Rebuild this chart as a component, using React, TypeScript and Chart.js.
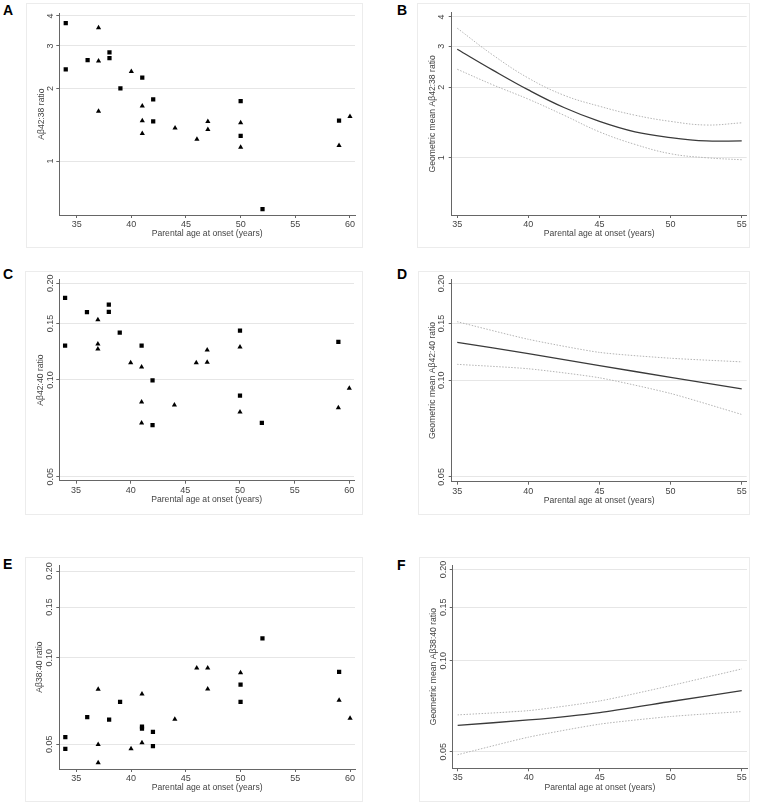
import React, { useEffect, useRef } from "react";
import { Chart, registerables } from "chart.js";
Chart.register(...registerables);

const FONT = '"Liberation Sans", Arial, sans-serif';

// ---- Observed data (panels A, C, E) ----
const sqAgesAC = [34, 34, 36, 38, 38, 39, 41, 42, 42, 50, 50, 52, 59];
const triAgesAC = [37, 37, 37, 40, 41, 41, 41, 44, 46, 47, 47, 50, 50, 59, 60];
const sqA = [3.73, 2.4, 2.62, 2.82, 2.67, 2.0, 2.22, 1.8, 1.46, 1.77, 1.27, 0.632, 1.47];
const triA = [3.57, 2.6, 1.61, 2.35, 1.69, 1.47, 1.3, 1.37, 1.23, 1.46, 1.35, 1.44, 1.14, 1.16, 1.53];
const sqC = [0.18, 0.128, 0.1625, 0.1717, 0.163, 0.1404, 0.128, 0.0998, 0.0724, 0.1425, 0.0894, 0.0736, 0.1314];
const triC = [0.154, 0.1295, 0.1249, 0.1132, 0.1098, 0.0854, 0.0735, 0.0836, 0.1132, 0.124, 0.1135, 0.1267, 0.0795, 0.082, 0.0942];
const sqAgesE = [34, 34, 36, 38, 39, 41, 41, 42, 42, 50, 50, 52, 59];
const sqE = [0.0529, 0.0482, 0.0621, 0.0609, 0.0702, 0.0576, 0.0567, 0.0552, 0.0492, 0.0806, 0.0702, 0.1167, 0.0892];
const triAgesE = [37, 37, 37, 40, 41, 41, 44, 46, 47, 47, 50, 59, 60];
const triE = [0.0776, 0.0499, 0.0431, 0.0482, 0.0748, 0.0506, 0.0611, 0.0921, 0.0921, 0.0778, 0.0887, 0.0711, 0.0616];

// ---- Model fits (panels B, D, F) ----
const fitAgesB = [35, 37.5, 40, 42.5, 45, 47.5, 50, 52.5, 55];
const fitB = [2.91, 2.37, 1.95, 1.64, 1.43, 1.29, 1.22, 1.18, 1.18];
const upperB = [3.58, 2.75, 2.19, 1.85, 1.66, 1.52, 1.43, 1.38, 1.41];
const lowerB = [2.39, 2.05, 1.78, 1.52, 1.29, 1.14, 1.04, 1.0, 0.98];
const fitAgesDF = [35, 40, 45, 50, 55];
const fitD = [0.131, 0.121, 0.111, 0.102, 0.094];
const upperD = [0.152, 0.134, 0.122, 0.117, 0.114];
const lowerD = [0.112, 0.1085, 0.1017, 0.0909, 0.0782];
const fitF = [0.0611, 0.0637, 0.0674, 0.0733, 0.0796];
const upperF = [0.0662, 0.0684, 0.0736, 0.0827, 0.0939];
const lowerF = [0.0489, 0.0559, 0.0617, 0.0654, 0.0679];

// ---- Ticks & labels ----
const xTicksObs = [35, 40, 45, 50, 55, 60];
const xTicksFit = [35, 40, 45, 50, 55];
const yTicks4238 = [1, 2, 3, 4];
const yLabels4238 = ["1", "2", "3", "4"];
const yTicksRatio = [0.05, 0.1, 0.15, 0.2];
const yLabelsRatio = ["0.05", "0.10", "0.15", "0.20"];
const xTitle = "Parental age at onset (years)";

const pts = (xs: number[], ys: number[]) => xs.map((x, i) => ({ x, y: ys[i] }));

const sqSet = (xs: number[], ys: number[]) => ({
  data: pts(xs, ys), pointStyle: "rect", pointRadius: 3, backgroundColor: "#000", borderWidth: 0, showLine: false,
});
const triSet = (xs: number[], ys: number[]) => ({
  data: pts(xs, ys), pointStyle: "triangle", pointRadius: 3, backgroundColor: "#000", borderWidth: 0, showLine: false,
});
const mainLine = (xs: number[], ys: number[], t: number) => ({
  data: pts(xs, ys), showLine: true, pointRadius: 0, borderColor: "#3a3a3a", borderWidth: 1.3, tension: t, fill: false,
});
const ciLine = (xs: number[], ys: number[], t: number) => ({
  data: pts(xs, ys), showLine: true, pointRadius: 0, borderColor: "#b4b4b4", borderWidth: 1, borderDash: [1.5, 1.5], tension: t, fill: false,
});

type Box = { l: number; t: number; r: number; b: number };
type Cfg = {
  frame: Box; plot: Box; xMin: number; xMax: number; yMin: number; yMax: number;
  xTicks: number[]; yTicks: number[]; yLabels: string[]; yTitle: string;
  yLabelOff: number; yTitleOff: number; datasets: any[];
};

const panels: Cfg[] = [
  {
    frame: { l: 26, t: 3, r: 363, b: 248 }, plot: { l: 59.3, t: 13.3, r: 355, b: 215 },
    xMin: 33.41, xMax: 60.46, yMin: 0.597, yMax: 4.1, xTicks: xTicksObs, yTicks: yTicks4238, yLabels: yLabels4238,
    yTitle: "Aβ42:38 ratio", yLabelOff: 8.6, yTitleOff: 18,
    datasets: [sqSet(sqAgesAC, sqA), triSet(triAgesAC, triA)],
  },
  {
    frame: { l: 417, t: 3, r: 750, b: 248 }, plot: { l: 451.7, t: 12.7, r: 746.7, b: 215 },
    xMin: 34.61, xMax: 55.35, yMin: 0.569, yMax: 4.17, xTicks: xTicksFit, yTicks: yTicks4238, yLabels: yLabels4238,
    yTitle: "Geometric mean Aβ42:38 ratio", yLabelOff: 10, yTitleOff: 19.4,
    datasets: [ciLine(fitAgesB, upperB, 0.4), ciLine(fitAgesB, lowerB, 0.4), mainLine(fitAgesB, fitB, 0.4)],
  },
  {
    frame: { l: 25, t: 271, r: 363, b: 515 }, plot: { l: 59.3, t: 279.3, r: 354, b: 480.7 },
    xMin: 33.47, xMax: 60.43, yMin: 0.0486, yMax: 0.2057, xTicks: xTicksObs, yTicks: yTicksRatio, yLabels: yLabelsRatio,
    yTitle: "Aβ42:40 ratio", yLabelOff: 8.6, yTitleOff: 18.6,
    datasets: [sqSet(sqAgesAC, sqC), triSet(triAgesAC, triC)],
  },
  {
    frame: { l: 418, t: 271, r: 750, b: 515 }, plot: { l: 451.7, t: 279.3, r: 746.7, b: 481.7 },
    xMin: 34.61, xMax: 55.35, yMin: 0.0483, yMax: 0.206, xTicks: xTicksFit, yTicks: yTicksRatio, yLabels: yLabelsRatio,
    yTitle: "Geometric mean Aβ42:40 ratio", yLabelOff: 10, yTitleOff: 19.4,
    datasets: [ciLine(fitAgesDF, upperD, 0.2), ciLine(fitAgesDF, lowerD, 0.2), mainLine(fitAgesDF, fitD, 0.2)],
  },
  {
    frame: { l: 25, t: 557, r: 363, b: 802 }, plot: { l: 59.3, t: 565, r: 355, b: 769 },
    xMin: 33.45, xMax: 60.45, yMin: 0.041, yMax: 0.21, xTicks: xTicksObs, yTicks: yTicksRatio, yLabels: yLabelsRatio,
    yTitle: "Aβ38:40 ratio", yLabelOff: 9.3, yTitleOff: 19.3,
    datasets: [sqSet(sqAgesE, sqE), triSet(triAgesE, triE)],
  },
  {
    frame: { l: 419, t: 557, r: 750, b: 802 }, plot: { l: 452.7, t: 565, r: 747, b: 768.3 },
    xMin: 34.65, xMax: 55.37, yMin: 0.0441, yMax: 0.207, xTicks: xTicksFit, yTicks: yTicksRatio, yLabels: yLabelsRatio,
    yTitle: "Geometric mean Aβ38:40 ratio", yLabelOff: 9.4, yTitleOff: 19.4,
    datasets: [ciLine(fitAgesDF, upperF, 0.2), ciLine(fitAgesDF, lowerF, 0.2), mainLine(fitAgesDF, fitF, 0.2)],
  },
];

const panelLetters = [
  { t: "A", x: 3, y: 3 },
  { t: "B", x: 397, y: 3 },
  { t: "C", x: 3, y: 266.5 },
  { t: "D", x: 397, y: 266.5 },
  { t: "E", x: 3, y: 556.5 },
  { t: "F", x: 397, y: 558 },
];

function Panel({ cfg }: { cfg: Cfg }) {
  const ref = useRef<HTMLCanvasElement | null>(null);
  const { frame, plot } = cfg;
  const W = frame.r - frame.l;
  const H = frame.b - frame.t;
  useEffect(() => {
    const textPlugin = {
      id: "panelText",
      afterDraw(chart: any) {
        const ctx = chart.ctx;
        const ca = chart.chartArea;
        const ys = chart.scales.y;
        ctx.save();
        ctx.fillStyle = "#444";
        ctx.font = `9px ${FONT}`;
        cfg.yTicks.forEach((v, i) => {
          const py = ys.getPixelForValue(v);
          ctx.save();
          ctx.translate(ca.left - cfg.yLabelOff, py);
          ctx.rotate(-Math.PI / 2);
          ctx.textAlign = "center";
          ctx.textBaseline = "middle";
          ctx.fillText(cfg.yLabels[i], 0, 0);
          ctx.restore();
        });
        ctx.font = `8.6px ${FONT}`;
        ctx.save();
        ctx.translate(ca.left - cfg.yTitleOff, (ca.top + ca.bottom) / 2);
        ctx.rotate(-Math.PI / 2);
        ctx.textAlign = "center";
        ctx.textBaseline = "middle";
        ctx.fillText(cfg.yTitle, 0, 0);
        ctx.restore();
        ctx.textAlign = "center";
        ctx.textBaseline = "middle";
        ctx.fillText(xTitle, (ca.left + ca.right) / 2, ca.bottom + 19);
        ctx.restore();
      },
    };
    const chart = new Chart(ref.current as HTMLCanvasElement, {
      type: "scatter",
      data: { datasets: cfg.datasets },
      options: {
        animation: false,
        responsive: false,
        devicePixelRatio: 1,
        layout: { padding: { left: 0, top: plot.t - frame.t, right: frame.r - plot.r, bottom: 0 } },
        plugins: { legend: { display: false }, tooltip: { enabled: false } },
        scales: {
          x: {
            type: "linear", bounds: "data", min: cfg.xMin, max: cfg.xMax,
            afterBuildTicks: (s: any) => { s.ticks = cfg.xTicks.map((v) => ({ value: v })); },
            afterFit: (s: any) => { s.height = frame.b - plot.b; },
            grid: { drawOnChartArea: false, drawTicks: true, tickLength: 3, tickColor: "#666", tickWidth: 1 },
            border: { display: true, color: "#666", width: 1 },
            ticks: {
              font: { family: FONT, size: 9 }, color: "#444", padding: 1, maxRotation: 0, minRotation: 0,
              autoSkip: false, callback: (v: any) => String(v),
            },
          },
          y: {
            type: "logarithmic", bounds: "data", min: cfg.yMin, max: cfg.yMax,
            afterBuildTicks: (s: any) => { s.ticks = cfg.yTicks.map((v) => ({ value: v })); },
            afterFit: (s: any) => { s.width = plot.l - frame.l; },
            grid: { color: "#e6e6e6", lineWidth: 1, drawTicks: true, tickLength: 3, tickColor: "#666", tickWidth: 1 },
            border: { display: true, color: "#666", width: 1 },
            ticks: { display: false },
          },
        },
      } as any,
      plugins: [textPlugin],
    });
    return () => chart.destroy();
  }, []);
  return (
    <canvas
      ref={ref}
      width={W}
      height={H}
      style={{ position: "absolute", left: frame.l, top: frame.t, width: W, height: H, border: "none" }}
    />
  );
}

export default function App() {
  return (
    <div style={{ position: "absolute", left: 0, top: 0, width: 759, height: 805, background: "#fff", overflow: "hidden" }}>
      {panels.map((p, i) => (
        <div
          key={"f" + i}
          style={{
            position: "absolute", left: p.frame.l, top: p.frame.t,
            width: p.frame.r - p.frame.l, height: p.frame.b - p.frame.t,
            boxSizing: "border-box", border: "1px solid #ececec",
          }}
        />
      ))}
      {panels.map((p, i) => (
        <Panel key={"p" + i} cfg={p} />
      ))}
      {panelLetters.map((l) => (
        <div
          key={l.t}
          style={{
            position: "absolute", left: l.x, top: l.y, fontFamily: FONT, fontWeight: "bold",
            fontSize: 14, lineHeight: "14px", color: "#000",
          }}
        >
          {l.t}
        </div>
      ))}
    </div>
  );
}
